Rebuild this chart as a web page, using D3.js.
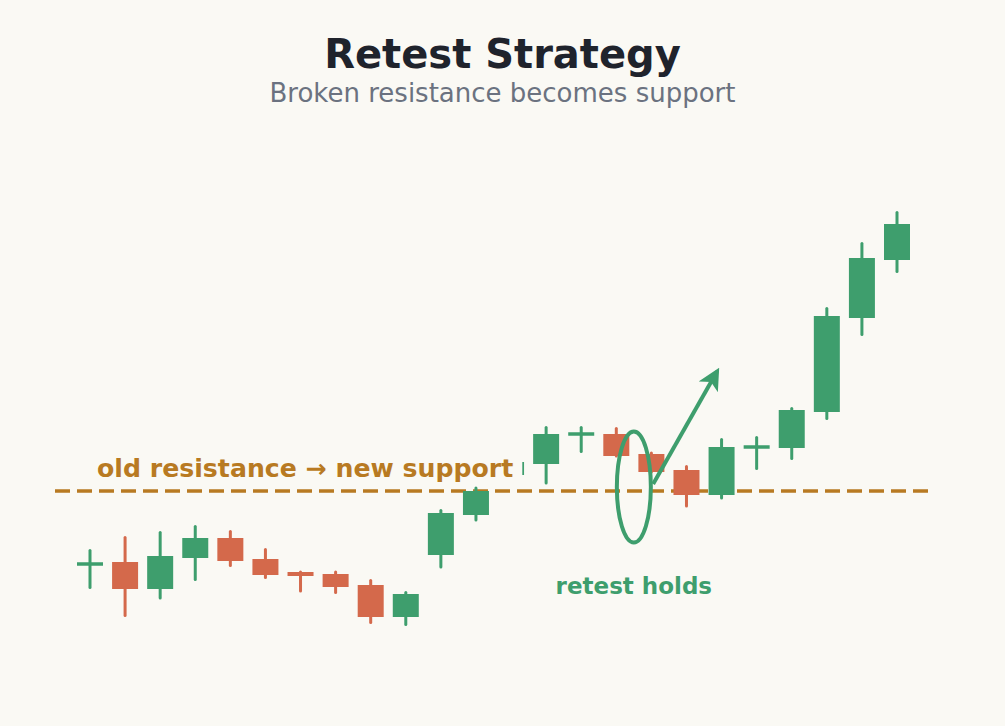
<!DOCTYPE html>
<html>
<head>
<meta charset="utf-8">
<script src="https://cdn.jsdelivr.net/npm/d3@7"></script>
<style>
  html, body { margin: 0; padding: 0; background: #faf9f4; }
  svg { display: block; font-family: "DejaVu Sans", sans-serif; }
</style>
</head>
<body>
<div id="chart"></div>
<script>
// candle data (price units), index = position on x
const opens  = [95.4, 95.8, 90.4, 96.6, 100.6, 96.4, 93.8, 93.4, 91.2, 84.8, 97.2, 105.2, 113.2, 115.4, 121.4, 121.4, 117.4, 114.2, 109.2, 118.8, 118.6, 125.8, 144.6, 156.2];
const closes = [95.4, 90.4, 97.0, 100.6, 96.0, 93.2, 93.0, 90.8, 84.8, 89.4, 105.6, 110.0, 115.8, 121.4, 121.4, 117.0, 113.8, 109.2, 118.8, 118.8, 126.2, 145.0, 156.6, 163.4];
const highs  = [98.1, 100.7, 101.7, 102.9, 101.9, 98.3, 93.8, 93.8, 92.1, 89.7, 106.1, 110.6, 116.6, 122.7, 122.7, 122.5, 117.6, 114.9, 120.3, 120.7, 126.5, 146.5, 159.5, 165.7];
const lows   = [90.7, 85.1, 88.6, 92.3, 95.1, 92.7, 90.0, 89.7, 83.7, 83.3, 94.8, 104.2, 112.4, 111.6, 117.9, 117.0, 113.8, 107.0, 108.6, 114.5, 116.5, 124.5, 141.3, 153.9];
// bull / bear flag (dojis keep their colour)
const bullish = [true, false, true, true, false, false, false, false, false, true, true, true, true, true, true, false, false, false, true, true, true, true, true, true];

const resistance = 110;
const retestAt = [15.5, 110.8];      // index, price of the circled retest
const arrowFrom = [16.05, 111.4];
const arrowTo = [17.87, 133.9];
const labelText = "old resistance \u2192 new support";
const noteText = "retest holds";

const W = 1005, H = 726;
const green = "#3e9e6d", red = "#d4694b", gold = "#b87a22";

const svg = d3.select("#chart").append("svg")
    .attr("width", W)
    .attr("height", H);

svg.append("rect").attr("width", W).attr("height", H).attr("fill", "#faf9f4");

// titles
svg.append("text")
    .attr("x", W / 2).attr("y", 68)
    .attr("text-anchor", "middle")
    .style("font-size", "40px").style("font-weight", "bold")
    .attr("fill", "#1f232c")
    .text("Retest Strategy");

svg.append("text")
    .attr("x", W / 2).attr("y", 102)
    .attr("text-anchor", "middle")
    .style("font-size", "26px")
    .attr("fill", "#6b7280")
    .text("Broken resistance becomes support");

const x = d3.scaleLinear().domain([0, opens.length - 1]).range([90, 897]);
const y = d3.scaleLinear().domain([80, 170]).range([641, 191]);

const candles = opens.map((o, i) => ({
    i: i, open: o, close: closes[i], high: highs[i], low: lows[i], up: bullish[i]
}));

// support / resistance line
svg.append("line")
    .attr("x1", 55).attr("x2", 932)
    .attr("y1", y(resistance)).attr("y2", y(resistance))
    .attr("stroke", gold)
    .attr("stroke-width", 3.5)
    .attr("stroke-dasharray", "15,7");

// candles
const g = svg.append("g");
const c = g.selectAll(".candle").data(candles).enter().append("g").attr("class", "candle");

c.append("line")
    .attr("x1", d => x(d.i)).attr("x2", d => x(d.i))
    .attr("y1", d => y(d.high)).attr("y2", d => y(d.low))
    .attr("stroke", d => d.up ? green : red)
    .attr("stroke-width", 3)
    .attr("stroke-linecap", "round");

const bodyW = 26;
c.append("rect")
    .attr("x", d => x(d.i) - bodyW / 2)
    .attr("width", bodyW)
    .attr("y", d => {
        const top = y(Math.max(d.open, d.close)), bot = y(Math.min(d.open, d.close));
        return bot - top < 3.5 ? (top + bot) / 2 - 1.75 : top;
    })
    .attr("height", d => Math.max(3.5, Math.abs(y(d.open) - y(d.close))))
    .attr("fill", d => d.up ? green : red);

// label with background that masks what is behind it
const label = svg.append("text")
    .attr("x", 97).attr("y", 477)
    .style("font-size", "25.2px").style("font-weight", "bold")
    .attr("fill", gold)
    .text(labelText);
const bb = label.node().getBBox();
svg.insert("rect", () => label.node())
    .attr("x", bb.x - 9).attr("y", bb.y)
    .attr("width", bb.width + 18).attr("height", bb.height)
    .attr("fill", "#faf9f4");

// retest ellipse
svg.append("ellipse")
    .attr("cx", x(retestAt[0])).attr("cy", y(retestAt[1]))
    .attr("rx", 17).attr("ry", 55.5)
    .attr("fill", "none")
    .attr("stroke", green)
    .attr("stroke-width", 4);

// arrow
svg.append("defs").append("marker")
    .attr("id", "head")
    .attr("viewBox", "0 0 10 10")
    .attr("refX", 8).attr("refY", 5)
    .attr("markerWidth", 5.5).attr("markerHeight", 5.5)
    .attr("markerUnits", "strokeWidth")
    .attr("orient", "auto")
    .append("path")
    .attr("d", "M0,0 L10,5 L0,10 L2.5,5 Z")
    .attr("fill", green);

svg.append("line")
    .attr("x1", x(arrowFrom[0])).attr("y1", y(arrowFrom[1]))
    .attr("x2", x(arrowTo[0])).attr("y2", y(arrowTo[1]))
    .attr("stroke", green)
    .attr("stroke-width", 4)
    .attr("marker-end", "url(#head)");

svg.append("text")
    .attr("x", x(retestAt[0])).attr("y", 594)
    .attr("text-anchor", "middle")
    .style("font-size", "23px").style("font-weight", "bold")
    .attr("fill", green)
    .text(noteText);
</script>
</body>
</html>
